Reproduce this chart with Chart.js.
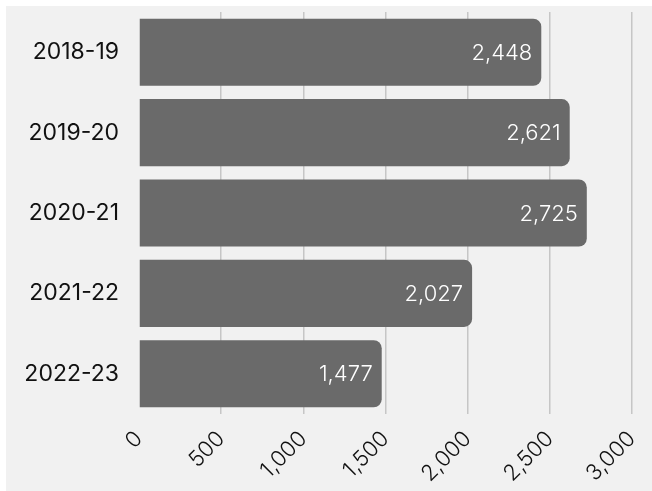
<!DOCTYPE html>
<html>
<head>
<meta charset="utf-8">
<script src="https://cdn.jsdelivr.net/npm/chart.js@4"></script>
<style>
  html, body { margin: 0; padding: 0; background: #fff; }
  #wrap { position: absolute; left: 6px; top: 6px; width: 646px; height: 485px; background: #f1f1f1; }
  canvas { display: block; }
</style>
</head>
<body>
<div id="wrap"><canvas id="chart" width="646" height="485"></canvas></div>
<script>
// Data
const years = ['2018-19', '2019-20', '2020-21', '2021-22', '2022-23'];
const counts = [2448, 2621, 2725, 2027, 1477];
const axisMax = 3000;
const axisStep = 500;

const FONT = 'Inter, "Noto Sans", sans-serif';

// Value labels drawn inside the end of each bar
const barLabels = {
    id: 'barLabels',
    afterDatasetsDraw(chart) {
        const ctx = chart.ctx;
        const meta = chart.getDatasetMeta(0);
        ctx.save();
        ctx.fillStyle = '#ffffff';
        ctx.font = '300 22px ' + FONT;
        ctx.textAlign = 'right';
        ctx.textBaseline = 'middle';
        meta.data.forEach((bar, i) => {
            ctx.fillText(counts[i].toLocaleString('en-US'), bar.x - 9, bar.y + 1);
        });
        ctx.restore();
    }
};

const ctx = document.getElementById('chart').getContext('2d');
new Chart(ctx, {
    type: 'bar',
    data: {
        labels: years,
        datasets: [{
            data: counts,
            backgroundColor: '#6a6a6a',
            borderRadius: 8,
            borderSkipped: 'start',
            barPercentage: 0.835,
            categoryPercentage: 1
        }]
    },
    options: {
        indexAxis: 'y',
        responsive: false,
        animation: false,
        layout: { padding: { top: 6, right: 20, bottom: 0, left: 0 } },
        plugins: {
            legend: { display: false },
            tooltip: { enabled: false }
        },
        scales: {
            x: {
                min: 0,
                max: axisMax,
                border: { display: false },
                grid: {
                    color: c => c.index === 0 ? 'rgba(0,0,0,0)' : '#c6c6c6',
                    lineWidth: 1.5,
                    drawTicks: false
                },
                ticks: {
                    stepSize: axisStep,
                    minRotation: 45,
                    maxRotation: 45,
                    padding: 12,
                    color: '#111',
                    font: { family: FONT, size: 22, weight: 300 },
                    callback: v => v.toLocaleString('en-US')
                },
                afterFit(scale) {
                    scale.height = 77;
                    scale.paddingLeft = 0;
                    scale.paddingRight = 0;
                }
            },
            y: {
                border: { display: false },
                grid: { display: false, drawTicks: false },
                ticks: {
                    padding: 20,
                    color: '#111',
                    font: { family: FONT, size: 23, weight: 400 }
                },
                afterFit(scale) {
                    scale.width = 133;
                    scale.paddingTop = 0;
                    scale.paddingBottom = 0;
                }
            }
        }
    },
    plugins: [barLabels]
});
</script>
</body>
</html>
